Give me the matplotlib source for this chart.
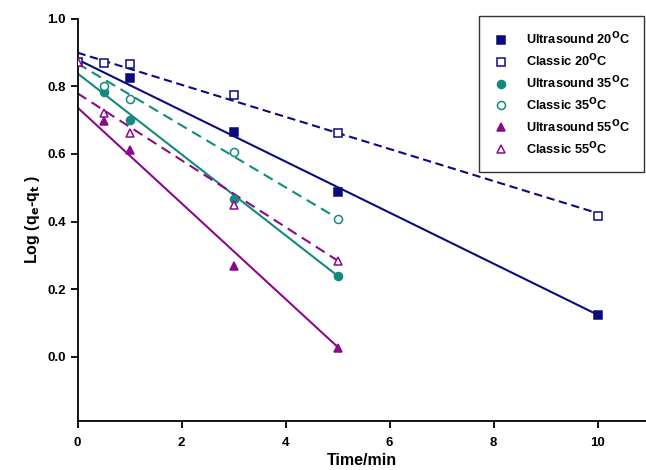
import matplotlib
matplotlib.use("Agg")
import matplotlib.pyplot as plt
import numpy as np

plt.rcParams['font.family'] = ['Liberation Sans', 'DejaVu Sans']

# Measured points: time (min) and log(qe - qt)
us20_t = [1, 3, 5, 10]
us20_y = [0.825, 0.666, 0.488, 0.124]
cl20_t = [0, 0.5, 1, 3, 5, 10]
cl20_y = [0.872, 0.870, 0.866, 0.774, 0.661, 0.417]
us35_t = [0.5, 1, 3, 5]
us35_y = [0.782, 0.701, 0.467, 0.240]
cl35_t = [0.5, 1, 3, 5]
cl35_y = [0.800, 0.761, 0.606, 0.408]
us55_t = [0.5, 1, 3, 5]
us55_y = [0.697, 0.611, 0.269, 0.026]
cl55_t = [0, 0.5, 1, 3, 5]
cl55_y = [0.872, 0.722, 0.663, 0.449, 0.284]

# Linear kinetic fits: value at t = 0 and at the last time of each run
fit_start = [0.879, 0.899, 0.838, 0.867, 0.737, 0.779]
fit_end = [0.125, 0.425, 0.240, 0.410, 0.030, 0.285]
fit_tmax = [10, 10, 5, 5, 5, 5]

labels = ['Ultrasound 20$^{\\mathbf{O}}$C', 'Classic 20$^{\\mathbf{O}}$C',
          'Ultrasound 35$^{\\mathbf{O}}$C', 'Classic 35$^{\\mathbf{O}}$C',
          'Ultrasound 55$^{\\mathbf{O}}$C', 'Classic 55$^{\\mathbf{O}}$C']

navy, teal, purple = '#0b0b80', '#128a7c', '#8a0a8a'
series = [
    (us20_t, us20_y, navy, 's', True, '-'),
    (cl20_t, cl20_y, navy, 's', False, (0, (4, 2.2))),
    (us35_t, us35_y, teal, 'o', True, '-'),
    (cl35_t, cl35_y, teal, 'o', False, (0, (5, 3))),
    (us55_t, us55_y, purple, '^', True, '-'),
    (cl55_t, cl55_y, purple, '^', False, (0, (5, 3))),
]

fig = plt.figure(figsize=(6.46, 4.70), dpi=100)
ax = fig.add_axes([77.5 / 646, 1 - 421.3 / 470, 568 / 646, 402.8 / 470])

handles = []
for i, (t, y, c, m, filled, ls) in enumerate(series):
    ax.plot([0, fit_tmax[i]], [fit_start[i], fit_end[i]], color=c, lw=1.5,
            ls=ls, zorder=2)
    ms = 6.3 if m != 'o' else 5.8
    h, = ax.plot(t, y, ls='none', marker=m, ms=ms, color=c,
                 mfc=c if filled else 'white', mec=c, mew=1.1, zorder=3,
                 label=labels[i])
    handles.append(h)

ax.set_xlim(0, 568 / 52)
ax.set_ylim(-0.19, 1.0)
ax.set_xticks([0, 2, 4, 6, 8, 10])
ax.set_yticks([0.0, 0.2, 0.4, 0.6, 0.8, 1.0])
ax.set_yticklabels(['0.0', '0.2', '0.4', '0.6', '0.8', '1.0'])
for s in ['top', 'right']:
    ax.spines[s].set_visible(False)
for s in ['left', 'bottom']:
    ax.spines[s].set_linewidth(1.3)
ax.tick_params(direction='out', length=5, width=1.3, labelsize=9.5)
ax.tick_params(axis='x', pad=6)
for lab in ax.get_xticklabels() + ax.get_yticklabels():
    lab.set_fontweight('bold')

ax.set_xlabel('Time/min', fontsize=11.5, fontweight='bold', labelpad=3)
ax.set_ylabel('Log (q$_\\mathbf{e}$-q$_\\mathbf{t}$ )', fontsize=11.5,
              fontweight='bold', labelpad=4)

leg = ax.legend(handles=handles, loc='upper right',
                bbox_to_anchor=(1.0, 1.01), frameon=True,
                fancybox=False, edgecolor='black', handlelength=1.2,
                handletextpad=1.3, borderpad=1.15, borderaxespad=0.1,
                labelspacing=0.42,
                prop={'weight': 'bold', 'size': 9.2})
leg.get_frame().set_linewidth(1.0)

fig.savefig('out.png', dpi=100)
